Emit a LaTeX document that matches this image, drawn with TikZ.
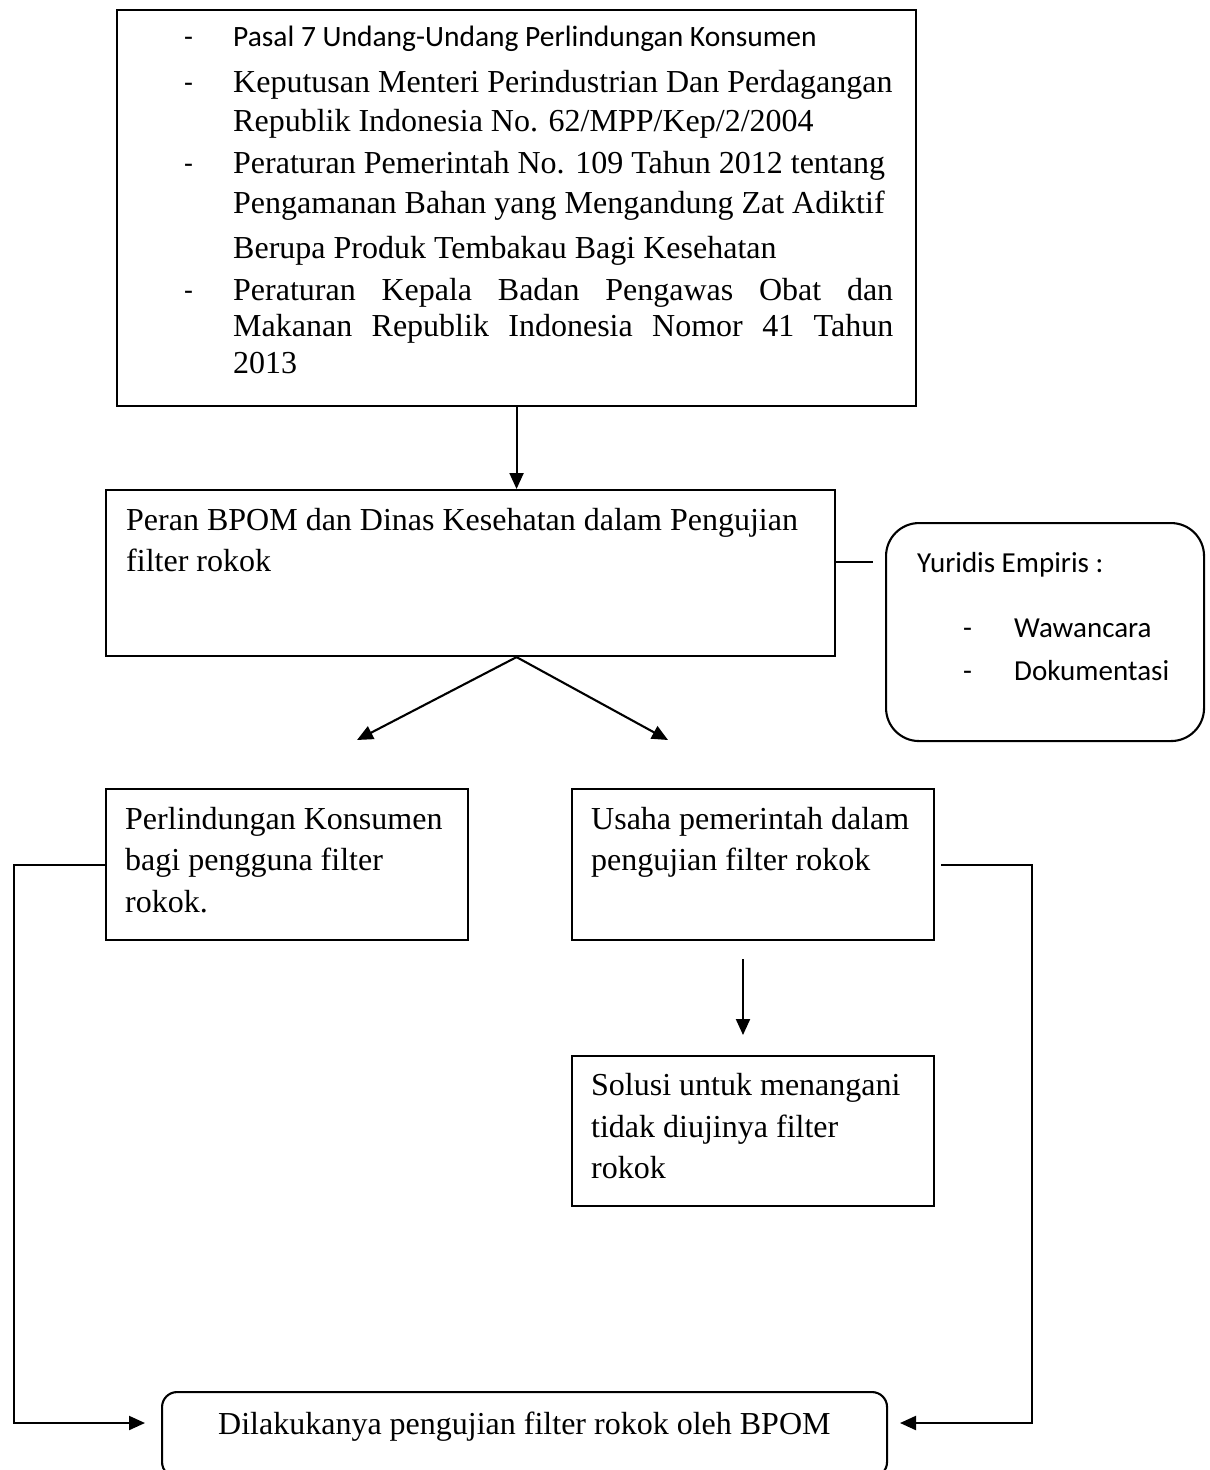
\documentclass[tikz,border=0pt]{standalone}
\usepackage{fontspec}
\setmainfont{Liberation Serif}
\newfontfamily\calfont{Carlito}
\usetikzlibrary{arrows.meta}
\begin{document}
\begin{tikzpicture}[x=1pt,y=-1pt,
  box/.style={draw, line width=2.1pt, inner sep=0pt, anchor=north west},
  rbox/.style={box},
  conn/.style={line width=2.1pt},
  arr/.style={conn, -{Triangle[length=16pt,width=14pt]}},
  serif/.style={inner sep=0pt, anchor=base west, font=\fontsize{32}{40}\selectfont},
  sans/.style={inner sep=0pt, anchor=base west, font=\calfont\fontsize{29}{35}\selectfont},
  dashmark/.style={sans}
]
\clip (0,0) rectangle (1210,1470);
\fill[white] (0,0) rectangle (1210,1470);

% boxes
\node[box, minimum width=799pt, minimum height=396pt] (top) at (116,9) {};
\node[box, minimum width=729pt, minimum height=166pt] (b2) at (105,489) {};
\node[rbox, rounded corners=33pt, minimum width=318pt, minimum height=218pt] (yur) at (885,522) {};
\node[box, minimum width=362pt, minimum height=151pt] (lb) at (105,788) {};
\node[box, minimum width=362pt, minimum height=151pt] (rb) at (571,788) {};
\node[box, minimum width=362pt, minimum height=150pt] (sol) at (571,1055) {};
\node[rbox, rounded corners=15pt, minimum width=725pt, minimum height=85pt] (bot) at (161,1391) {};

% top box text
\node[dashmark] (d1) at (184,46) {-};
\node[sans, font=\calfont\fontsize{29.5}{35}\selectfont] (t1) at (233,46) {Pasal 7 Undang-Undang Perlindungan Konsumen};
\node[dashmark] (d2) at (184,92) {-};
\node[serif] (t2a) at (233,92) {Keputusan Menteri Perindustrian Dan Perdagangan};
\node[serif] (t2b) at (233,131) {Republik Indonesia No. 62/MPP/Kep/2/2004};
\node[dashmark] (d3) at (184,173) {-};
\node[serif] (t3a) at (233,173) {Peraturan Pemerintah No. 109 Tahun 2012 tentang};
\node[serif] (t3b) at (233,213) {Pengamanan Bahan yang Mengandung Zat Adiktif};
\node[serif] (t3c) at (233,258) {Berupa Produk Tembakau Bagi Kesehatan};
\node[dashmark] (d4) at (184,300) {-};
\node[serif] (t4a) at (233,300) {\makebox[660pt][s]{Peraturan Kepala Badan Pengawas Obat dan}};
\node[serif] (t4b) at (233,336) {\makebox[660pt][s]{Makanan Republik Indonesia Nomor 41 Tahun}};
\node[serif] (t4c) at (233,373) {2013};

% box 2 text
\node[serif] (p1) at (126,530) {Peran BPOM dan Dinas Kesehatan dalam Pengujian};
\node[serif] (p2) at (126,571) {filter rokok};

% yuridis text
\node[sans] (y1) at (917,572) {Yuridis Empiris :};
\node[dashmark] (yd1) at (963,637) {-};
\node[sans] (y2) at (1014,637) {Wawancara};
\node[dashmark] (yd2) at (963,680) {-};
\node[sans] (y3) at (1014,680) {Dokumentasi};

% left box text
\node[serif] (l1) at (125,829) {Perlindungan Konsumen};
\node[serif] (l2) at (125,870) {bagi pengguna filter};
\node[serif] (l3) at (125,912) {rokok.};

% right box text
\node[serif] (r1) at (591,829) {Usaha pemerintah dalam};
\node[serif] (r2) at (591,870) {pengujian filter rokok};

% solusi text
\node[serif] (s1) at (591,1095) {Solusi untuk menangani};
\node[serif] (s2) at (591,1137) {tidak diujinya filter};
\node[serif] (s3) at (591,1178) {rokok};

% bottom text
\node[serif] (bt) at (218,1434) {Dilakukanya pengujian filter rokok oleh BPOM};

% connectors
\coordinate (dl) at (357,740);
\coordinate (dr) at (668,740);
\coordinate (yl) at (873,562);
\coordinate (ax) at (743,0);
\coordinate (lv) at (14,0);
\coordinate (la) at (145,1423);
\coordinate (rv) at (1032,0);
\coordinate (ra) at (900,1423);

\draw[arr] (top.south) -- (top.south |- b2.north);
\draw[arr] (b2.south -| top.south) -- (dl);
\draw[arr] (b2.south -| top.south) -- (dr);
\draw[conn] (b2.east |- yl) -- (yl);
\draw[arr, shorten <=18pt, shorten >=20pt] (rb.south -| ax) -- (sol.north -| ax);
\draw[arr] (lb.west) -| (lv |- la) -- (la);
\draw[arr, shorten <=6pt] (rb.east) -| (rv |- ra) -- (ra);
\end{tikzpicture}
\end{document}
